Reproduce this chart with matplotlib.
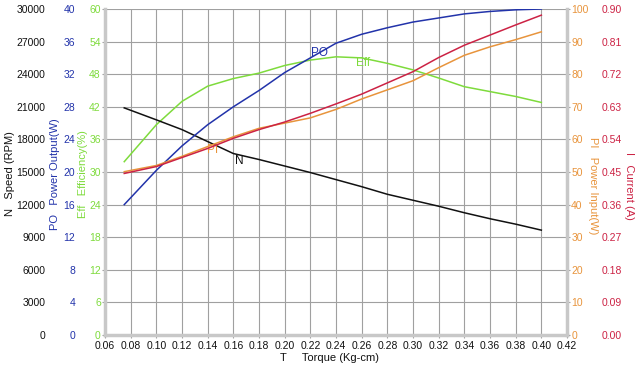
import matplotlib.pyplot as plt
import numpy as np

plt.rcParams['font.family'] = ['Liberation Sans', 'DejaVu Sans']

# torque (Kg-cm) and curves
torque = [0.075, 0.10, 0.12, 0.14, 0.16, 0.18, 0.20, 0.22, 0.24, 0.26,
          0.28, 0.30, 0.32, 0.34, 0.36, 0.38, 0.40]
speed = [20900, 19800, 18900, 17800, 16700, 16150, 15550, 14950, 14300, 13650,
         12950, 12400, 11850, 11250, 10700, 10200, 9650]
power_out = [16.0, 20.2, 23.2, 25.8, 28.0, 30.0, 32.2, 34.0, 35.8, 36.9,
             37.7, 38.4, 38.9, 39.4, 39.7, 39.9, 40.0]
efficiency = [31.9, 38.7, 43.0, 45.8, 47.2, 48.2, 49.6, 50.6, 51.2, 51.0,
              50.0, 48.8, 47.3, 45.7, 44.8, 43.9, 42.8]
power_in = [50.1, 52.0, 54.8, 57.8, 60.8, 63.4, 65.0, 66.6, 69.2, 72.4,
            75.2, 78.0, 82.0, 85.8, 88.4, 90.6, 93.0]
current = [0.446, 0.465, 0.490, 0.515, 0.543, 0.567, 0.588, 0.612, 0.638, 0.665,
           0.696, 0.727, 0.766, 0.800, 0.828, 0.856, 0.883]

x_ticks = np.arange(0.06, 0.4201, 0.02)

BLACK = '#111111'
BLUE = '#2233aa'
GREEN = '#7edb3c'
ORANGE = '#e8943c'
RED = '#cc2244'
GRID = '#a0a0a0'
SPINE = '#c8c8c8'
TICK_FS = 7.5
TITLE_FS = 8

fig = plt.figure(figsize=(6.4, 3.71), dpi=100)
rect = [105 / 640, 36 / 371, 462 / 640, 326 / 371]

# main axes carries the efficiency scale and the grid
ax = fig.add_axes(rect)
ax.set_xlim(0.06, 0.42)
ax.set_ylim(0, 60)
ax.set_xticks(x_ticks)
ax.set_xticklabels([f"{t:.2f}" for t in x_ticks])
ax.set_yticks(np.linspace(0, 60, 11))
ax.set_yticklabels([f"{v:g}" for v in np.linspace(0, 60, 11)])
ax.grid(True, color=GRID, linewidth=0.8)
ax.tick_params(axis='y', length=2, pad=1, labelsize=TICK_FS, labelcolor=GREEN, color=GRID)
ax.tick_params(axis='x', length=2, pad=2, labelsize=TICK_FS, labelcolor=BLACK, color=GRID)
for side in ['top', 'right']:
    ax.spines[side].set_visible(False)
for side in ['left', 'bottom']:
    ax.spines[side].set_color(SPINE)
    ax.spines[side].set_linewidth(2.5)
ax.set_axisbelow(True)


def extra_axis(side, ylim, labels, color, pad, length=0):
    a = fig.add_axes(rect, sharex=ax)
    a.patch.set_visible(False)
    for s in a.spines.values():
        s.set_visible(False)
    a.xaxis.set_visible(False)
    a.yaxis.set_ticks_position(side)
    a.set_ylim(*ylim)
    a.set_yticks(np.linspace(ylim[0], ylim[1], 11))
    a.set_yticklabels(labels)
    a.tick_params(axis='y', length=length, pad=pad, labelsize=TICK_FS,
                  labelcolor=color, color=GRID)
    return a


ax_n = extra_axis('left', (0, 30000), [f"{v:d}" for v in range(0, 30001, 3000)], BLACK, 43)
ax_po = extra_axis('left', (0, 40), [f"{v:d}" for v in range(0, 41, 4)], BLUE, 21.5)
ax_pi = extra_axis('right', (0, 100), [f"{v:d}" for v in range(0, 101, 10)], ORANGE, 1, 2)
ax_i = extra_axis('right', (0, 0.9), [f"{v:.2f}" for v in np.linspace(0, 0.9, 11)], RED, 25)
ax_pi.spines['right'].set_visible(True)
ax_pi.spines['right'].set_color(SPINE)
ax_pi.spines['right'].set_linewidth(2.5)

ax_n.plot(torque, speed, color=BLACK, lw=1.1)
ax.plot(torque, efficiency, color=GREEN, lw=1.1)
ax_pi.plot(torque, power_in, color=ORANGE, lw=1.1)
ax_i.plot(torque, current, color=RED, lw=1.1)
ax_po.plot(torque, power_out, color=BLUE, lw=1.1)

ax_po.text(0.227, 34.6, 'PO', color=BLUE, fontsize=8.5, ha='center', va='center')
ax.text(0.261, 50.1, 'Eff', color=GREEN, fontsize=8.5, ha='center', va='center')
ax_pi.text(0.144, 56.8, 'PI', color=ORANGE, fontsize=8.5, ha='center', va='center')
ax_n.text(0.165, 16000, 'N', color=BLACK, fontsize=8.5, ha='center', va='center')

# axis titles
fig.text(10 / 640, 1 - 174 / 371, 'N   Speed (RPM)', rotation=90, color=BLACK,
         fontsize=TITLE_FS, ha='center', va='center')
fig.text(55 / 640, 1 - 174 / 371, 'PO   Power Output(W)', rotation=90, color=BLUE,
         fontsize=TITLE_FS, ha='center', va='center')
fig.text(83 / 640, 1 - 174 / 371, 'Eff   Efficiency(%)', rotation=90, color=GREEN,
         fontsize=TITLE_FS, ha='center', va='center')
fig.text(593 / 640, 1 - 186 / 371, 'PI   Power Input(W)', rotation=270, color=ORANGE,
         fontsize=TITLE_FS, ha='center', va='center')
fig.text(629 / 640, 1 - 186 / 371, 'I   Current (A)', rotation=270, color=RED,
         fontsize=TITLE_FS, ha='center', va='center')
fig.text(330 / 640, 1 - 358 / 371, 'T     Torque (Kg-cm)', color=BLACK,
         fontsize=TITLE_FS, ha='center', va='center')

fig.savefig('out.png', dpi=100, facecolor='white')
